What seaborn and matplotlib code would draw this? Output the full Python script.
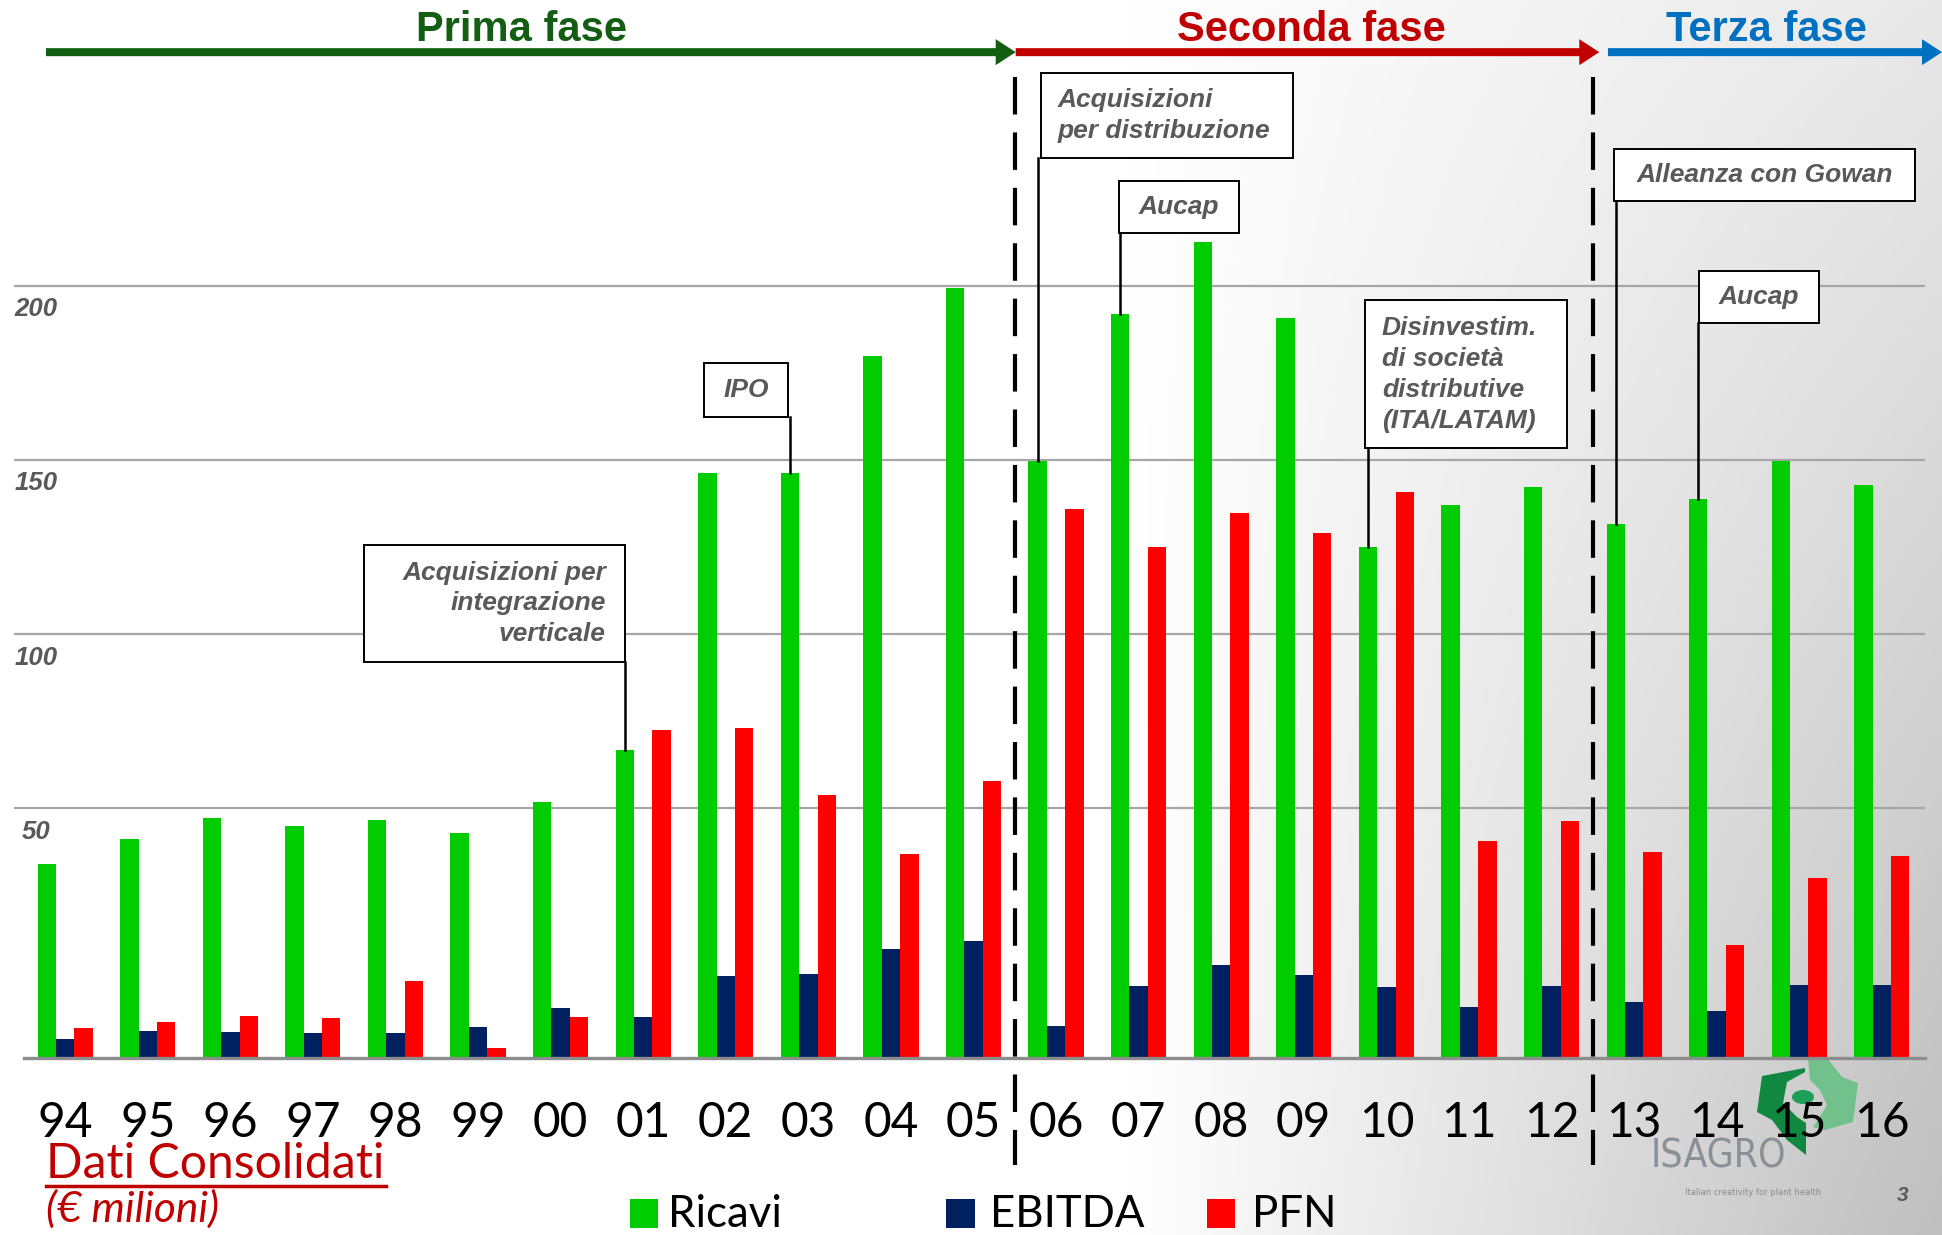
import numpy as np
import pandas as pd
import matplotlib
matplotlib.use("Agg")
import matplotlib.pyplot as plt
import matplotlib.transforms as mtransforms
from matplotlib.patches import Rectangle, FancyArrow, Polygon, Circle
from matplotlib.lines import Line2D
import seaborn as sns

# ---------------- data ----------------
years = ['94', '95', '96', '97', '98', '99', '00', '01', '02', '03', '04', '05',
         '06', '07', '08', '09', '10', '11', '12', '13', '14', '15', '16']
ricavi = [33.9, 41.0, 47.1, 44.9, 46.7, 42.8, 51.7, 66.7, 146.2, 146.2, 179.7, 199.3,
          149.7, 191.8, 212.4, 190.7, 125.1, 136.9, 142.2, 131.5, 138.7, 149.7, 142.9]
ebitda = [-16.4, -13.9, -14.2, -14.6, -14.6, -12.8, -7.4, -9.9, 1.8, 2.5, 9.7, 11.8,
          -12.4, -1.0, 5.0, 2.2, -1.4, -7.1, -1.0, -5.7, -8.2, -0.7, -0.7]
pfn = [-13.1, -11.4, -9.6, -10.3, 0.4, -18.8, -9.9, 72.4, 73.1, 53.9, 36.7, 57.8,
       135.8, 125.1, 134.7, 129.0, 140.8, 40.7, 46.4, 37.5, 10.7, 30.0, 36.4]
series = ['Ricavi', 'EBITDA', 'PFN']
palette = {'Ricavi': '#00CC00', 'EBITDA': '#002060', 'PFN': '#FF0000'}
y_ticks = [50, 100, 150, 200]
phases = ['Prima fase', 'Seconda fase', 'Terza fase']
phase_colors = ['#135E13', '#C00000', '#0070C0']
ann_texts = ['Acquisizioni per\nintegrazione\nverticale', 'IPO',
             'Acquisizioni\nper distribuzione', 'Aucap',
             'Disinvestim.\ndi società\ndistributive\n(ITA/LATAM)',
             'Alleanza con Gowan', 'Aucap']
ann_years = ['01', '03', '06', '07', '10', '13', '14']

# ---------------- layout helpers ----------------
W, H = 1942, 1235
REFW = 1564.0
S = W / REFW
def fx(x):
    return x / REFW
def fy(y):
    return 1 - y * S / H

YMIN = -21.7
YTOP = 249.9
BARW = 0.668

fig = plt.figure(figsize=(W / 100, H / 100), dpi=100)

# background gradient (white -> grey towards bottom right)
bg = fig.add_axes([0, 0, 1, 1], zorder=-10)
xs = np.linspace(0, 1, 400)[None, :]
ys = np.linspace(0, 1, 300)[:, None]
g = 1 - (64 / 255) * np.clip((xs - 0.58) / 0.42, 0, 1) * (0.35 + 0.65 * ys)
bg.imshow(np.dstack([g, g, g]), extent=[0, 1, 0, 1], aspect='auto', origin='upper')
bg.set_axis_off()

ax = fig.add_axes([fx(11.27), fy(852), fx(1550.1) - fx(11.27), fy(90) - fy(852)])
ax.set_facecolor('none')

df = pd.DataFrame({
    'anno': years * 3,
    'serie': ['Ricavi'] * len(years) + ['EBITDA'] * len(years) + ['PFN'] * len(years),
    'valore': ricavi + ebitda + pfn,
})
sns.barplot(data=df, x='anno', y='valore', hue='serie', order=years, hue_order=series,
            palette=palette, width=BARW, saturation=1, linewidth=0, legend=False, ax=ax)
# bars rise from the axis floor, as in the original chart
for p in ax.patches:
    top = p.get_y() + p.get_height()
    p.set_y(YMIN)
    p.set_height(top - YMIN)

ax.set_xlim(-0.62, 22.52)
ax.set_ylim(YMIN, YTOP)
ax.set_xlabel('')
ax.set_ylabel('')
for s in ax.spines.values():
    s.set_visible(False)
ax.set_axisbelow(True)
ax.grid(axis='y', color='#A6A6A6', lw=1.6)
ax.grid(axis='x', visible=False)
ax.axhline(YMIN, xmin=0.005, color='#8C8C8C', lw=2.4, clip_on=False)

ax.tick_params(axis='x', length=0, pad=31, labelsize=34.5, labelcolor='black')
for lab in ax.get_xticklabels():
    lab.set_fontfamily('Lato')

ax.set_yticks(y_ticks)
ax.set_yticklabels([str(v) for v in y_ticks])
ax.tick_params(axis='y', length=0, pad=-15.8)
yoff = mtransforms.ScaledTranslation(0, -17 / 72, fig.dpi_scale_trans)
for lab in ax.get_yticklabels():
    lab.set_fontfamily('Liberation Sans')
    lab.set_fontsize(18.5)
    lab.set_fontweight('bold')
    lab.set_fontstyle('italic')
    lab.set_color('#595959')
    lab.set_ha('center')
    lab.set_va('center')
    lab.set_transform(lab.get_transform() + yoff)

# dashed phase separators
blend = mtransforms.blended_transform_factory(ax.transData, ax.transAxes)
for xv in [11.5, 18.5]:
    ax.plot([xv, xv], [(852 - 62) / 762, (852 - 938) / 762], transform=blend,
            color='black', lw=3, ls=(0, (9, 4.3)), clip_on=False)

# phase arrows and titles
ident = mtransforms.IdentityTransform()
arrows = [(37, 818), (818, 1288), (1295, 1564)]
title_x = [420, 1056, 1423]
for (x0, x1), name, col, tx in zip(arrows, phases, phase_colors, title_x):
    a = FancyArrow(x0 * S, H - 42 * S, (x1 - x0) * S, 0, width=8, head_width=26,
                   head_length=20, length_includes_head=True, color=col, lw=0,
                   transform=ident)
    fig.add_artist(a)
    fig.text(fx(tx), fy(24), name, ha='center', va='center', fontsize=30,
             fontweight='bold', color=col, family='Liberation Sans')

# annotation boxes with leader lines
boxes = [(293, 439, 503, 533, 'right', 1.36), (567, 292, 635, 336, 'center', 1.2),
         (838, 59, 1041, 127, 'left', 1.36), (901, 146, 998, 188, 'center', 1.2),
         (1099, 242, 1262, 361, 'left', 1.38), (1300, 120, 1542, 162, 'center', 1.2),
         (1368, 218, 1465, 260, 'center', 1.2)]
inv = fig.transFigure.inverted()
for (x0, y0, x1, y1, al, lsp), txt, yr in zip(boxes, ann_texts, ann_years):
    i = years.index(yr)
    xb = i - BARW / 3
    bx, by = inv.transform(ax.transData.transform((xb, ricavi[i])))
    fig.add_artist(Line2D([bx, bx], [by, fy(y1)], color='black', lw=1.8,
                          transform=fig.transFigure))
    fig.add_artist(Rectangle((fx(x0), fy(y1)), fx(x1) - fx(x0), fy(y0) - fy(y1),
                             transform=fig.transFigure, fc='white', ec='black', lw=1.4))
    if al == 'right':
        tx = x1 - 15
    elif al == 'left':
        tx = x0 + 14
    else:
        tx = (x0 + x1) / 2
    fig.text(fx(tx), fy((y0 + y1) / 2), txt, ha=al, va='center', multialignment=al,
             fontsize=19, fontweight='bold', fontstyle='italic', color='#595959',
             family='Liberation Sans', linespacing=lsp)

# bottom left notes
fig.text(fx(37), fy(949), 'Dati Consolidati', ha='left', va='baseline', fontsize=34.7,
         color='#C00000', family='Lato')
fig.add_artist(Line2D([fx(37), fx(311)], [fy(955), fy(955)], color='#C00000', lw=2.5,
                      transform=fig.transFigure))
fig.text(fx(37), fy(974), '(€ milioni)', ha='left', va='center', fontsize=30.5,
         fontstyle='italic', color='#C00000', family='Lato')

# legend
sq_x = [507, 762, 972]
lab_x = [538, 797, 1008]
for s_name, sx, lx in zip(series, sq_x, lab_x):
    fig.add_artist(Rectangle((fx(sx), fy(989)), fx(23), fy(966) - fy(989),
                             transform=fig.transFigure, fc=palette[s_name], lw=0))
    fig.text(fx(lx), fy(988), s_name, ha='left', va='baseline', fontsize=31.5,
             color='black', family='Lato')

# logo (approximation, drawn beneath the tick labels) and page number
def O(pts):
    return [(x / W, 1 - y / H) for x, y in pts]
fig.add_artist(Polygon(O([(1808, 1058), (1827, 1058), (1842, 1077), (1858, 1083),
                          (1853, 1122), (1825, 1130), (1813, 1127), (1820, 1117),
                          (1827, 1105), (1820, 1090), (1810, 1080)]), closed=True,
                       transform=fig.transFigure, fc='#72C08C', lw=0, zorder=-5))
fig.add_artist(Polygon(O([(1762, 1076), (1805, 1068), (1805, 1072), (1787, 1082),
                          (1783, 1103), (1797, 1117), (1806, 1123), (1806, 1155),
                          (1787, 1140), (1772, 1120), (1757, 1112)]), closed=True,
                       transform=fig.transFigure, fc='#11883F', lw=0, zorder=-5))
fig.add_artist(Circle((1803 / W, 1 - 1097 / H), 11 / W, transform=fig.transFigure,
                      fc='#1C9E58', lw=0, zorder=-5))
fig.text(fx(1384), fy(931), 'ISAGRO', ha='center', va='center', fontsize=28,
         color='#8A9095', family='DejaVu Sans', fontstretch='condensed', zorder=-4)
fig.text(fx(1412), fy(960), 'Italian creativity for plant health', ha='center',
         va='center', fontsize=6, color='#8C8C8C', zorder=-4)
fig.text(fx(1532), fy(963), '3', ha='center', va='center', fontsize=15,
         fontweight='bold', fontstyle='italic', color='#595959', family='Liberation Sans')

fig.savefig('out.png', dpi=100)
